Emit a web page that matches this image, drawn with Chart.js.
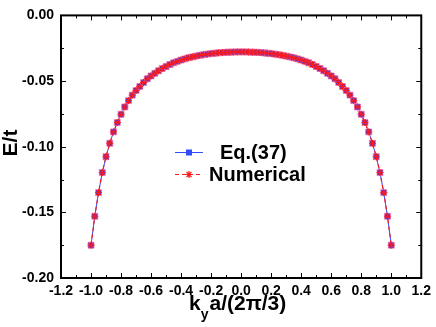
<!DOCTYPE html>
<html>
<head>
<meta charset="utf-8">
<script src="https://cdn.jsdelivr.net/npm/chart.js@4.4.1/dist/chart.umd.min.js"></script>
<style>
  html, body { margin: 0; padding: 0; background: #fff; }
  #wrap { width: 436px; height: 327px; }
</style>
</head>
<body>
<div id="wrap"><canvas id="myChart" width="436" height="327"></canvas></div>
<script>
// k_y a / (2pi/3)
const kValues = [
  -1.000, -0.975, -0.950, -0.925, -0.900, -0.875, -0.850, -0.825, -0.800, -0.775,
  -0.750, -0.725, -0.700, -0.675, -0.650, -0.625, -0.600, -0.575, -0.550, -0.525,
  -0.500, -0.475, -0.450, -0.425, -0.400, -0.375, -0.350, -0.325, -0.300, -0.275,
  -0.250, -0.225, -0.200, -0.175, -0.150, -0.125, -0.100, -0.075, -0.050, -0.025,
  0.000,
  0.025, 0.050, 0.075, 0.100, 0.125, 0.150, 0.175, 0.200, 0.225, 0.250,
  0.275, 0.300, 0.325, 0.350, 0.375, 0.400, 0.425, 0.450, 0.475, 0.500,
  0.525, 0.550, 0.575, 0.600, 0.625, 0.650, 0.675, 0.700, 0.725, 0.750,
  0.775, 0.800, 0.825, 0.850, 0.875, 0.900, 0.925, 0.950, 0.975, 1.000
];
// E/t from Eq.(37)
const eqEnergy = [
  -0.1750, -0.1530, -0.1350, -0.1197, -0.1076, -0.0974, -0.0887, -0.0816, -0.0753, -0.0697,
  -0.0649, -0.0607, -0.0572, -0.0541, -0.0511, -0.0483, -0.0461, -0.0441, -0.0422, -0.0404,
  -0.0389, -0.0374, -0.0361, -0.0350, -0.0340, -0.0331, -0.0323, -0.0316, -0.0310, -0.0304,
  -0.0299, -0.0295, -0.0291, -0.0288, -0.0285, -0.0283, -0.0281, -0.0280, -0.0279, -0.0278,
  -0.0278,
  -0.0278, -0.0279, -0.0280, -0.0281, -0.0283, -0.0285, -0.0288, -0.0291, -0.0295, -0.0299,
  -0.0304, -0.0310, -0.0316, -0.0323, -0.0331, -0.0340, -0.0350, -0.0361, -0.0374, -0.0389,
  -0.0404, -0.0422, -0.0441, -0.0461, -0.0483, -0.0511, -0.0541, -0.0572, -0.0607, -0.0649,
  -0.0697, -0.0753, -0.0816, -0.0887, -0.0974, -0.1076, -0.1197, -0.1350, -0.1530, -0.1750
];
// E/t numerical (lies on top of the analytic curve)
const numEnergy = [
  -0.1750, -0.1530, -0.1350, -0.1197, -0.1076, -0.0974, -0.0887, -0.0816, -0.0753, -0.0697,
  -0.0649, -0.0607, -0.0572, -0.0541, -0.0511, -0.0483, -0.0461, -0.0441, -0.0422, -0.0404,
  -0.0389, -0.0374, -0.0361, -0.0350, -0.0340, -0.0331, -0.0323, -0.0316, -0.0310, -0.0304,
  -0.0299, -0.0295, -0.0291, -0.0288, -0.0285, -0.0283, -0.0281, -0.0280, -0.0279, -0.0278,
  -0.0278,
  -0.0278, -0.0279, -0.0280, -0.0281, -0.0283, -0.0285, -0.0288, -0.0291, -0.0295, -0.0299,
  -0.0304, -0.0310, -0.0316, -0.0323, -0.0331, -0.0340, -0.0350, -0.0361, -0.0374, -0.0389,
  -0.0404, -0.0422, -0.0441, -0.0461, -0.0483, -0.0511, -0.0541, -0.0572, -0.0607, -0.0649,
  -0.0697, -0.0753, -0.0816, -0.0887, -0.0974, -0.1076, -0.1197, -0.1350, -0.1530, -0.1750
];
const xTicks = [-1.2, -1.0, -0.8, -0.6, -0.4, -0.2, 0.0, 0.2, 0.4, 0.6, 0.8, 1.0, 1.2];
const yTicks = [0.00, -0.05, -0.10, -0.15, -0.20];
const seriesNames = ['Eq.(37)', 'Numerical'];

const FONT = '"Liberation Sans", Arial, sans-serif';
const BLUE = '#2f4cff';
const RED = '#ff1a1a';

// frame, inward ticks, axis titles and legend
const decor = {
  id: 'decor',
  afterDatasetsDraw(chart) {
    const ctx = chart.ctx;
    const a = chart.chartArea;
    const xs = chart.scales.x, ys = chart.scales.y;
    ctx.save();
    ctx.strokeStyle = '#000';
    ctx.lineWidth = 1;
    ctx.beginPath();
    for (let i = 0; i <= 24; i++) {
      const v = -1.2 + i * 0.1;
      const px = Math.round(xs.getPixelForValue(v)) + 0.5;
      const len = i % 2 === 0 ? 5 : 3;
      ctx.moveTo(px, a.bottom); ctx.lineTo(px, a.bottom - len);
      ctx.moveTo(px, a.top); ctx.lineTo(px, a.top + len);
    }
    for (let i = 0; i <= 8; i++) {
      const v = -i * 0.025;
      const py = Math.round(ys.getPixelForValue(v)) + 0.5;
      const len = i % 2 === 0 ? 5 : 3;
      ctx.moveTo(a.left, py); ctx.lineTo(a.left + len, py);
      ctx.moveTo(a.right, py); ctx.lineTo(a.right - len, py);
    }
    ctx.stroke();
    ctx.lineWidth = 2;
    ctx.strokeRect(a.left, a.top, a.right - a.left, a.bottom - a.top);

    // legend
    const ly1 = 152, ly2 = 174;
    ctx.lineWidth = 1;
    ctx.strokeStyle = BLUE;
    ctx.beginPath(); ctx.moveTo(175, ly1 + 0.5); ctx.lineTo(203, ly1 + 0.5); ctx.stroke();
    ctx.fillStyle = BLUE;
    ctx.fillRect(186, ly1 - 2.5, 6, 6);
    ctx.strokeStyle = RED;
    ctx.lineWidth = 1.2;
    ctx.setLineDash([4, 3]);
    ctx.beginPath(); ctx.moveTo(175, ly2 + 0.5); ctx.lineTo(203, ly2 + 0.5); ctx.stroke();
    ctx.setLineDash([]);
    ctx.beginPath();
    const r = 3.5, cx = 189, cy = ly2 + 0.5;
    for (let k = 0; k < 4; k++) {
      const ang = k * Math.PI / 4;
      ctx.moveTo(cx - r * Math.cos(ang), cy - r * Math.sin(ang));
      ctx.lineTo(cx + r * Math.cos(ang), cy + r * Math.sin(ang));
    }
    ctx.stroke();
    ctx.fillStyle = '#000';
    ctx.font = 'bold 20px ' + FONT;
    ctx.textBaseline = 'middle';
    ctx.textAlign = 'left';
    ctx.fillText(seriesNames[0], 220, ly1 + 1);
    ctx.fillText(seriesNames[1], 209, ly2 + 1);

    // y title
    ctx.save();
    ctx.translate(11, 143);
    ctx.rotate(-Math.PI / 2);
    ctx.textAlign = 'center';
    ctx.font = 'bold 21px ' + FONT;
    ctx.fillText('E/t', 0, 0);
    ctx.restore();

    // x title with subscript
    ctx.textBaseline = 'alphabetic';
    ctx.font = 'bold 21px ' + FONT;
    let x = 189;
    ctx.fillText('k', x, 310);
    x += ctx.measureText('k').width;
    ctx.font = 'bold 14px ' + FONT;
    ctx.fillText('y', x, 319);
    x += ctx.measureText('y').width + 1;
    ctx.font = 'bold 21px ' + FONT;
    ctx.fillText('a/(2\u03c0/3)', x, 310);
    ctx.restore();
  }
};

const ctx = document.getElementById('myChart').getContext('2d');
const myChart = new Chart(ctx, {
  type: 'line',
  data: {
    datasets: [{
      label: seriesNames[1],
      data: kValues.map((k, i) => ({ x: k, y: numEnergy[i] })),
      borderColor: RED,
      borderWidth: 1.2,
      borderDash: [4, 3],
      pointStyle: 'star',
      pointRadius: 3.5,
      pointBorderColor: RED,
      pointBorderWidth: 1,
      pointBackgroundColor: RED,
      order: 0
    }, {
      label: seriesNames[0],
      data: kValues.map((k, i) => ({ x: k, y: eqEnergy[i] })),
      borderColor: BLUE,
      borderWidth: 1,
      pointStyle: 'rect',
      pointRadius: 4.2,
      pointBackgroundColor: '#4a35d8',
      pointBorderColor: 'rgba(255,120,170,0.75)',
      pointBorderWidth: 1,
      order: 1
    }]
  },
  options: {
    responsive: false,
    animation: false,
    devicePixelRatio: 1,
    layout: { padding: { left: 0, top: 9, right: 12, bottom: 0 } },
    plugins: { legend: { display: false }, tooltip: { enabled: false } },
    scales: {
      x: {
        type: 'linear',
        min: -1.2, max: 1.2,
        afterFit: s => { s.height = 49; },
        afterBuildTicks: s => { s.ticks = xTicks.map(v => ({ value: v })); },
        grid: { display: false, drawTicks: false },
        border: { display: false },
        ticks: {
          padding: 5,
          color: '#000',
          font: { family: FONT, size: 14, weight: 'bold' },
          maxRotation: 0,
          callback: v => v.toFixed(1)
        }
      },
      y: {
        type: 'linear',
        min: -0.2, max: 0,
        afterFit: s => { s.width = 61; },
        afterBuildTicks: s => { s.ticks = yTicks.map(v => ({ value: v })); },
        grid: { display: false, drawTicks: false },
        border: { display: false },
        ticks: {
          padding: 7,
          color: '#000',
          font: { family: FONT, size: 14, weight: 'bold' },
          callback: v => v.toFixed(2)
        }
      }
    }
  },
  plugins: [decor]
});
</script>
</body>
</html>
